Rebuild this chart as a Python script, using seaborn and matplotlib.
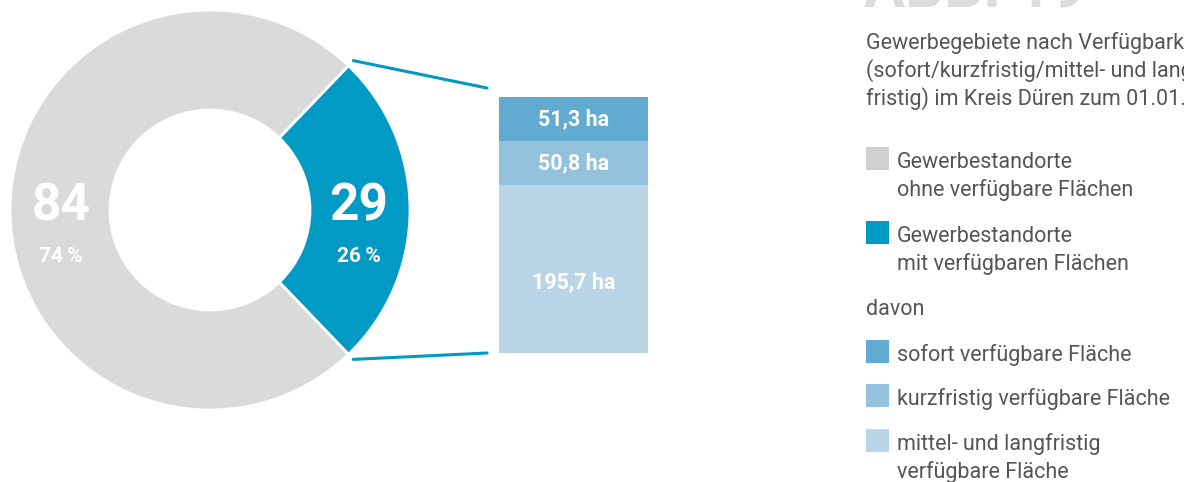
import matplotlib
matplotlib.use("Agg")
import matplotlib.pyplot as plt
from matplotlib.patches import ConnectionPatch, Rectangle
import numpy as np
import pandas as pd
import seaborn as sns

# Gewerbestandorte im Kreis Düren
site_labels = ["mit verfügbaren Flächen", "ohne verfügbare Flächen"]
site_counts = [29, 84]
site_colors = ["#019ac4", "#d9dada"]

# verfügbare Fläche der Standorte nach Verfügbarkeit (ha)
area_labels = ["sofort", "kurzfristig", "mittel- und langfristig"]
area_values = [51.3, 50.8, 195.7]
area_colors = ["#62abd0", "#94c1dc", "#bad5e7"]

title_lines = ["Gewerbegebiete nach Verfügbarkeit",
               "(sofort/kurzfristig/mittel- und lang-",
               "fristig) im Kreis Düren zum 01.01.2019"]

legend_entries = [
    ("#cfd0d0", ["Gewerbestandorte", "ohne verfügbare Flächen"]),
    (site_colors[0], ["Gewerbestandorte", "mit verfügbaren Flächen"]),
    (None, ["davon"]),
    (area_colors[0], ["sofort verfügbare Fläche"]),
    (area_colors[1], ["kurzfristig verfügbare Fläche"]),
    (area_colors[2], ["mittel- und langfristig", "verfügbare Fläche"]),
]

sns.set_theme(style="white")
plt.rcParams["font.family"] = ["Roboto", "DejaVu Sans"]

W, H = 1184, 482
fig = plt.figure(figsize=(W / 100, H / 100), dpi=100)
fig.patch.set_facecolor("white")


def box(x0, y0, x1, y1):
    return [x0 / W, 1 - y1 / H, (x1 - x0) / W, (y1 - y0) / H]


def ftext(x, y, s, **kw):
    return fig.text(x / W, 1 - y / H, s, **kw)


# --- donut -----------------------------------------------------------------
ax_d = fig.add_axes(box(10, 10, 410, 410))
total = sum(site_counts)
span = site_counts[0] / total * 360
ax_d.pie(site_counts, colors=site_colors, startangle=-span / 2,
         counterclock=True, radius=1,
         wedgeprops=dict(width=0.5, edgecolor="white", linewidth=2))
ax_d.set_xlim(-1, 1)
ax_d.set_ylim(-1, 1)
ax_d.set_aspect("equal")
ax_d.axis("off")

start = -span / 2
for count in site_counts:
    sweep = count / total * 360
    mid = np.deg2rad(start + sweep / 2)
    cx, cy = 0.745 * np.cos(mid), 0.745 * np.sin(mid)
    ax_d.text(cx, cy + 0.015, f"{count}", color="white", fontsize=37,
              fontweight="bold", ha="center", va="center")
    ax_d.text(cx, cy - 0.235, f"{round(count / total * 100)}\u2009%",
              color="white", fontsize=15, fontweight="bold",
              ha="center", va="center")
    start += sweep

# --- stacked bar of the available area -------------------------------------
ax_b = fig.add_axes(box(499, 97, 648, 353))
tops = np.cumsum(area_values[::-1])[::-1]
df = pd.DataFrame({"x": ["Fläche"] * len(area_labels), "top": tops,
                   "seg": area_labels})
sns.barplot(data=df, x="x", y="top", hue="seg", hue_order=area_labels,
            palette=area_colors, dodge=False, width=1, saturation=1,
            errorbar=None, legend=False, ax=ax_b, linewidth=0)
ax_b.set_xlim(-0.5, 0.5)
ax_b.set_ylim(0, tops[0])
ax_b.axis("off")

label_frac = [0.5, 0.5, 0.42]
for top, val, frac in zip(tops, area_values, label_frac):
    ax_b.text(0, top - val + val * frac, f"{val:.1f} ha".replace(".", ","),
              color="white", fontsize=15.5, fontweight="bold",
              ha="center", va="center")

# connector lines from the blue wedge to the bar
theta = np.deg2rad(span / 2)
r = 1.035
for sign, yb in [(1, 1.035), (-1, 0.0)]:
    con = ConnectionPatch(xyA=(r * np.cos(theta), sign * r * np.sin(theta)),
                          coordsA=ax_d.transData,
                          xyB=(-0.08, yb), coordsB=ax_b.transAxes,
                          color=site_colors[0], lw=2.2)
    fig.add_artist(con)

# --- heading and legend ----------------------------------------------------
text_color = "#555555"
fsize = 15.5
ftext(864, 8, "ABB. 19", color="#dcdcdc", fontsize=44, fontweight="bold",
      ha="left", va="baseline")
for i, line in enumerate(title_lines):
    ftext(866, 49 + i * 28, line, color=text_color, fontsize=fsize,
          fontweight="normal", ha="left", va="baseline")

square_tops = [147, 221, None, 340, 384, 429]
for (color, lines), top in zip(legend_entries, square_tops):
    if color is None:
        ftext(866, 315, lines[0], color=text_color, fontsize=fsize,
              fontweight="normal", ha="left", va="baseline")
        continue
    x0, y0 = 866 / W, 1 - (top + 23) / H
    fig.add_artist(Rectangle((x0, y0), 23 / W, 23 / H, transform=fig.transFigure,
                             facecolor=color, edgecolor="none"))
    for j, line in enumerate(lines):
        ftext(897, top + 21 + j * 28, line, color=text_color, fontsize=fsize,
              fontweight="normal", ha="left", va="baseline")

fig.savefig("out.png", dpi=100, facecolor="white")
